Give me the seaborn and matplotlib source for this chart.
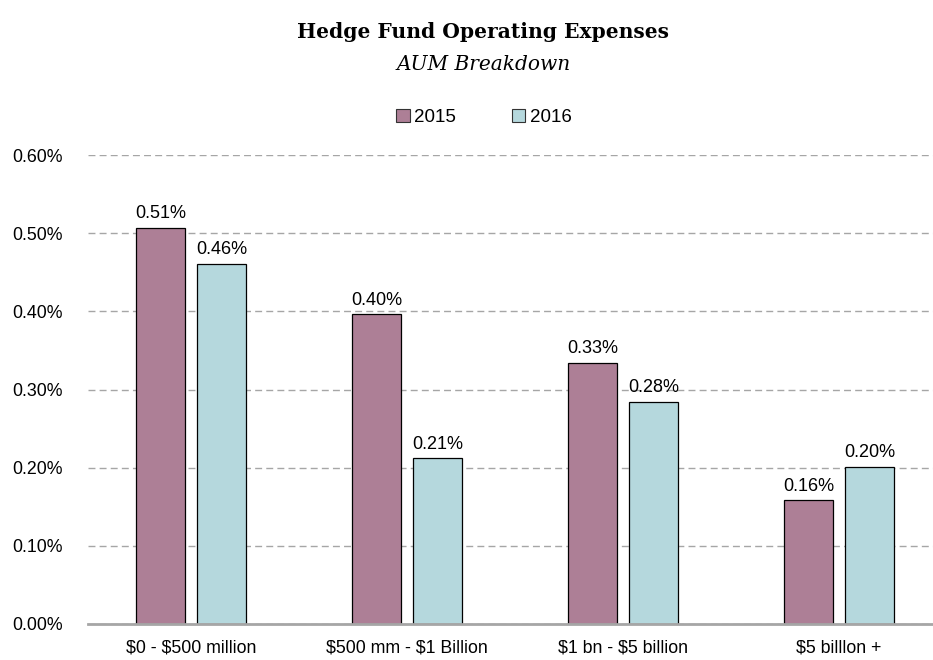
import pandas as pd
import seaborn as sns
import matplotlib.pyplot as plt
from matplotlib.ticker import FuncFormatter

# data
categories = ['\\$0 - \\$500 million', '\\$500 mm - \\$1 Billion', '\\$1 bn - \\$5 billion', '\\$5 billlon +']
years = ['2015', '2016']
exp_2015 = [0.507, 0.396, 0.334, 0.158]
exp_2016 = [0.461, 0.212, 0.284, 0.201]
colors = ['#AD7F96', '#B5D8DD']

df = pd.DataFrame({
    'category': categories * 2,
    'year': [years[0]] * 4 + [years[1]] * 4,
    'value': exp_2015 + exp_2016,
})

sns.set_style('white')
plt.rcParams['font.family'] = ['Liberation Sans', 'DejaVu Sans']
plt.rcParams['text.color'] = 'black'

fig = plt.figure(figsize=(9.33, 6.6), dpi=100)
ax = fig.add_axes([88 / 933, 36 / 660, 1 - 88 / 933, (624 - 155) / 660])

sns.barplot(data=df, x='category', y='value', hue='year', palette=colors,
            saturation=1, width=0.565, gap=0.21, edgecolor='black', linewidth=0.9,
            legend=False, ax=ax)

ax.set_ylim(0, 0.6)
ax.set_xlim(-0.477, 3.435)
ax.set_yticks([0, 0.1, 0.2, 0.3, 0.4, 0.5, 0.6])
ax.yaxis.set_major_formatter(FuncFormatter(lambda v, p: f'{v:.2f}%'))
ax.grid(axis='y', color='#A6A6A6', linestyle=(0, (5, 3)), linewidth=1)
ax.set_axisbelow(True)
for s in ['top', 'right', 'left']:
    ax.spines[s].set_visible(False)
ax.spines['bottom'].set_color('#A6A6A6')
ax.spines['bottom'].set_linewidth(2)
ax.set_xlabel('')
ax.set_ylabel('')
ax.tick_params(axis='both', length=0, labelsize=12.8, colors='black')
ax.tick_params(axis='x', pad=11)
ax.tick_params(axis='y', pad=18)

for cont in ax.containers:
    ax.bar_label(cont, fmt='%.2f%%', padding=4, fontsize=13)

fig.text(0.518, 0.951, 'Hedge Fund Operating Expenses', ha='center', va='center',
         fontsize=14.6, fontweight='bold', family=['DejaVu Serif'])
fig.text(0.518, 0.902, 'AUM Breakdown', ha='center', va='center',
         fontsize=14.5, style='italic', family=['DejaVu Serif'])

handles = [plt.Rectangle((0, 0), 1, 1, facecolor=c, edgecolor='#333333', linewidth=0.8) for c in colors]
fig.legend(handles, years, loc='center', bbox_to_anchor=(0.519, 0.822), ncol=2,
           frameon=False, fontsize=13.5, handlelength=0.7, handleheight=0.7,
           handletextpad=0.25, columnspacing=3.0)

fig.savefig('out.png', dpi=100)
